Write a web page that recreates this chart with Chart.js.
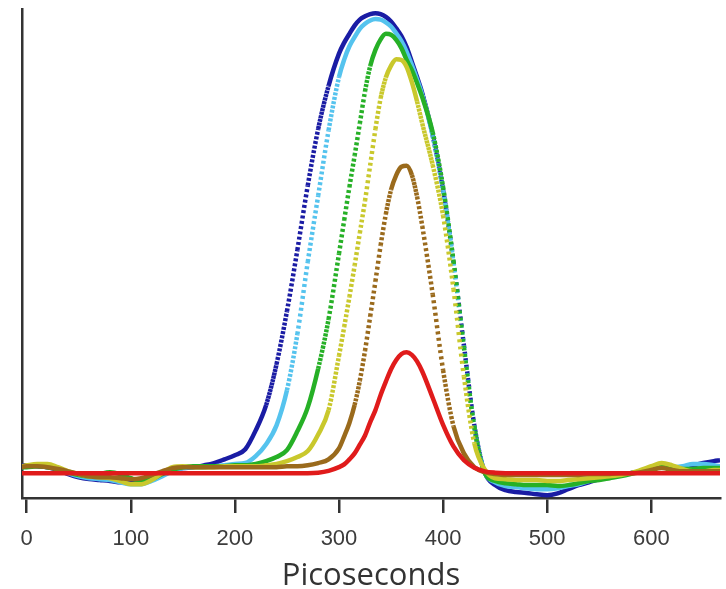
<!DOCTYPE html>
<html>
<head>
<meta charset="utf-8">
<script src="https://cdn.jsdelivr.net/npm/chart.js@4.4.1/dist/chart.umd.min.js"></script>
<style>
    html, body { margin: 0; padding: 0; background: #fff; }
    #wrap { width: 726px; height: 589px; position: relative; }
</style>
</head>
<body>
<div id="wrap"><canvas id="pulseChart"></canvas></div>
<script>
// time axis (ps)
const picoseconds = [-5, 0, 10, 20, 30, 40, 50, 60, 70, 80, 90, 100, 110, 120, 130, 140, 150, 160, 170, 180, 190,
    200, 210, 220, 230, 240, 250, 260, 270, 280, 290, 300, 305, 310, 315, 320, 325, 330, 335, 340, 345, 350, 355,
    360, 365, 370, 375, 380, 390, 400, 410, 420, 430, 440, 450, 460, 470, 480, 490, 500, 510, 520, 530, 540, 550,
    560, 570, 580, 590, 600, 610, 620, 630, 640, 650, 660, 666];

const xTicks = [0, 100, 200, 300, 400, 500, 600];

const navyTrace = [1.7, 1.7, 1.5, 1.3, 0.7, -0.2, -0.9, -1.3, -1.5, -1.7, -2.0, -2.2, -2.0, -1.3, -0.2, 0.7, 1.1, 1.3, 1.7, 2.2, 3.0,
    3.9, 5.2, 9.3, 14.8, 23.7, 35.2, 48.5, 62.5, 74.8, 84.2, 91.2, 93.6, 95.5, 97.3, 98.6, 99.3, 99.8, 100, 99.8, 99.2, 98.2, 96.7,
    95.0, 92.6, 89.4, 86.1, 82.6, 73.5, 61.5, 45.9, 27.8, 10.4, 0.2, -2.6, -3.7, -4.1, -4.3, -4.6, -4.8, -4.4, -3.5, -2.6, -2.0, -1.3,
    -0.9, -0.4, 0, 0.4, 1.1, 1.5, 1.1, 1.3, 1.7, 2.2, 2.6, 2.8];

const skyTrace = [1.3, 1.5, 1.7, 1.5, 0.9, 0, -0.7, -1.1, -1.3, -1.5, -2.0, -2.4, -2.4, -1.7, -0.7, 0.4, 1.1, 1.3, 1.3, 1.5, 1.7,
    2.0, 2.2, 3.7, 6.3, 10.4, 18.0, 30.2, 45.9, 60.3, 74.5, 86.1, 89.9, 92.8, 94.8, 96.6, 97.7, 98.4, 98.7, 98.6, 98.0, 97.1, 95.6,
    93.9, 91.6, 88.7, 85.6, 82.2, 73.3, 61.3, 45.7, 27.4, 10.0, 0.2, -2.0, -2.8, -3.0, -3.3, -3.5, -3.5, -3.3, -2.8, -2.4, -1.7, -1.1,
    -0.7, -0.2, 0, 0.4, 0.9, 1.3, 1.3, 1.5, 2.0, 2.0, 1.7, 1.5];

const greenTrace = [1.3, 1.3, 1.5, 1.3, 0.9, 0.2, -0.4, -0.7, -0.2, 0.2, -0.2, -1.1, -1.7, -1.3, -0.2, 0.7, 1.3, 1.5, 1.5, 1.5, 1.5,
    1.7, 1.7, 2.0, 2.6, 3.5, 5.0, 9.1, 14.3, 22.7, 33.5, 47.7, 55.0, 62.2, 69.0, 76.0, 83.0, 88.5, 92.0, 94.3, 95.5, 95.3, 94.2,
    92.4, 89.8, 87.6, 84.8, 81.7, 74.1, 62.2, 46.1, 27.3, 10.0, 0, -1.7, -2.2, -2.4, -2.6, -2.6, -2.6, -2.8, -2.6, -2.2, -1.7, -1.5,
    -1.1, -0.7, -0.2, 0.4, 1.3, 2.0, 1.5, 0.9, 0.9, 1.1, 1.1, 1.1];

const yellowTrace = [1.5, 1.7, 2.0, 2.0, 1.3, 0.4, -0.2, -0.7, -0.9, -1.1, -1.7, -2.4, -2.4, -1.5, 0, 1.3, 1.5, 1.3, 1.3, 1.3, 1.5,
    1.5, 1.5, 1.5, 1.7, 2.0, 2.6, 3.5, 4.8, 8.4, 13.7, 25.5, 31.8, 38.3, 45.1, 52.2, 59.2, 67.0, 74.8, 81.5, 86.0, 88.6, 90.0,
    89.8, 88.3, 85.0, 80.8, 76.0, 67.0, 56.0, 40.0, 21.0, 6.5, 0.8, -1.1, -1.3, -1.5, -1.5, -1.5, -1.7, -1.7, -1.5, -1.3, -1.1, -0.9,
    -0.7, -0.4, 0, 0.7, 1.5, 2.2, 1.7, 0.9, 0.4, 0.4, 0.7, 0.7];

const brownTrace = [1.3, 1.5, 1.5, 1.3, 0.9, 0.4, -0.2, -0.7, -0.9, -0.9, -1.1, -1.3, -1.1, -0.4, 0.4, 1.1, 1.3, 1.3, 1.3, 1.3, 1.3,
    1.3, 1.3, 1.3, 1.3, 1.3, 1.5, 1.5, 1.7, 2.2, 3.0, 5.4, 8.0, 10.9, 14.8, 20.1, 26.6, 34.1, 41.7, 49.5, 56.3, 61.6, 64.8,
    66.6, 66.8, 64.8, 60.1, 53.7, 38.9, 22.4, 10.2, 4.3, 1.3, 0.2, -0.2, -0.4, -0.4, -0.4, -0.4, -0.4, -0.4, -0.4, -0.4, -0.2, -0.2,
    -0.2, 0, 0, 0.2, 0.7, 1.1, 0.7, 0.4, 0.4, 0.4, 0.4, 0.4];

const redTrace = [0, 0, 0, 0, 0, 0, 0, 0, 0, 0, 0, 0, 0, 0, 0, 0, 0, 0, 0, 0, 0,
    0, 0, 0, 0, 0, 0, 0, 0, 0.1, 0.5, 1.3, 1.9, 3.0, 4.3, 6.2, 8.2, 11.1, 13.7, 17.0, 19.9, 22.6, 24.6,
    25.9, 26.3, 25.7, 24.3, 22.1, 16.4, 10.5, 5.8, 2.8, 1.2, 0.4, 0.1, 0, 0, 0, 0, 0, 0, 0, 0, 0, 0,
    0, 0, 0, 0, 0, 0, 0, 0, 0, 0, 0, 0];

function toPoints(values) {
    return picoseconds.map((t, i) => ({ x: t, y: values[i] }));
}

// steep parts of a trace break up into dots, like a densely sampled scan
function dotPattern(ctx) {
    const dx = Math.abs(ctx.p1.x - ctx.p0.x);
    const dy = Math.abs(ctx.p1.y - ctx.p0.y);
    const slope = dy / Math.max(dx, 0.01);
    const step = 0.85 * Math.sqrt(1 + slope * slope);
    return step > 3.4 ? [3, step - 3] : undefined;
}

function trace(values, color) {
    return {
        data: toPoints(values),
        borderColor: color,
        borderWidth: 4.5,
        borderCapStyle: 'butt',
        borderJoinStyle: 'round',
        pointRadius: 0,
        fill: false,
        cubicInterpolationMode: 'monotone',
        segment: { borderDash: dotPattern }
    };
}

// first dataset is drawn on top
const pulseChartCtx = document.getElementById('pulseChart').getContext('2d');
const pulseChart = new Chart(pulseChartCtx, {
    type: 'line',
    data: {
        datasets: [
            trace(redTrace, '#e01b1b'),
            trace(brownTrace, '#9a6a1c'),
            trace(yellowTrace, '#c9c82c'),
            trace(greenTrace, '#26b026'),
            trace(skyTrace, '#55c3ee'),
            trace(navyTrace, '#1a1ca4')
        ]
    },
    options: {
        responsive: true,
        maintainAspectRatio: false,
        animation: false,
        layout: {
            padding: { top: 9, right: 6, bottom: 0, left: 0 }
        },
        plugins: {
            legend: { display: false },
            tooltip: { enabled: false }
        },
        scales: {
            x: {
                type: 'linear',
                min: -4.5,
                max: 666,
                afterFit: (axis) => { axis.height = 91; },
                afterBuildTicks: (axis) => { axis.ticks = xTicks.map(v => ({ value: v })); },
                grid: {
                    drawOnChartArea: false,
                    drawTicks: true,
                    tickLength: 15,
                    color: '#333',
                    lineWidth: 2.5
                },
                border: { display: true, color: '#333', width: 2.5 },
                ticks: {
                    autoSkip: false,
                    maxRotation: 0,
                    padding: 13,
                    color: '#3c3c3c',
                    font: { family: 'Liberation Sans', size: 22 }
                },
                title: {
                    display: true,
                    text: 'Picoseconds',
                    color: '#333',
                    padding: 0,
                    font: { family: 'Open Sans', size: 31, lineHeight: 0.8 }
                }
            },
            y: {
                min: -5.4,
                max: 100.9,
                afterFit: (axis) => { axis.width = 22; },
                grid: { display: false },
                border: { display: true, color: '#333', width: 2.5 },
                ticks: { display: false }
            }
        }
    }
});
</script>
</body>
</html>
